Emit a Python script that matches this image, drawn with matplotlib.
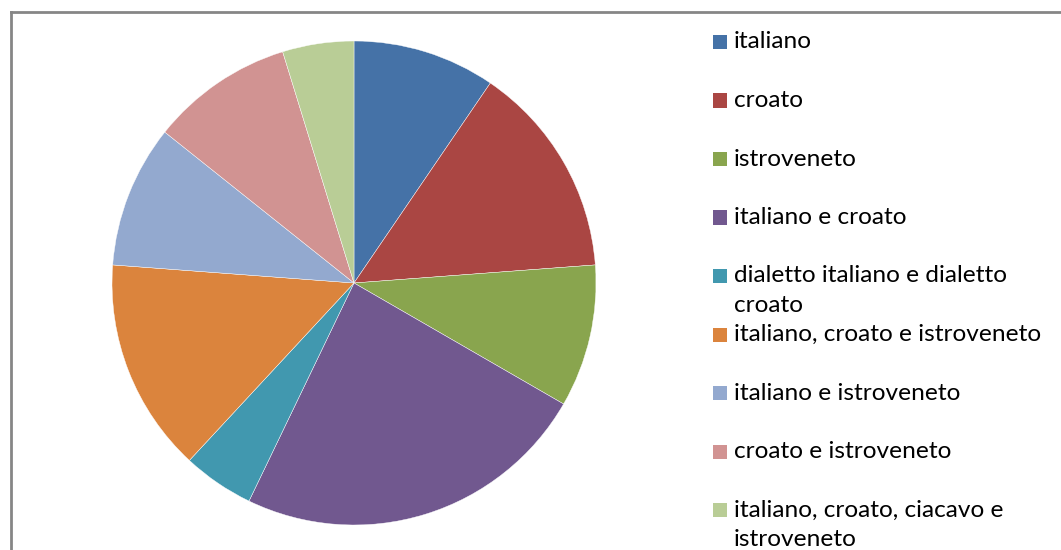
import matplotlib
matplotlib.use("Agg")
import matplotlib.pyplot as plt
from matplotlib.patches import Rectangle
from matplotlib.lines import Line2D

labels = ["italiano", "croato", "istroveneto", "italiano e croato",
          "dialetto italiano e dialetto\ncroato", "italiano, croato e istroveneto",
          "italiano e istroveneto", "croato e istroveneto",
          "italiano, croato, ciacavo e\nistroveneto"]
values = [2, 3, 2, 5, 1, 3, 2, 2, 1]
colors = ["#4572A7", "#AA4643", "#89A54E", "#71588F", "#4198AF",
          "#DB843D", "#93A9CF", "#D19392", "#B9CD96"]

W, H = 1061, 550
fig = plt.figure(figsize=(W / 100, H / 100), dpi=100)
fig.patch.set_facecolor("white")

# outer chart border (extends beyond right/bottom)
fig.add_artist(Line2D([10.5 / W, 10.5 / W], [0, 1 - 11.5 / H], transform=fig.transFigure,
                      color="#868686", lw=2))
fig.add_artist(Line2D([10.5 / W, 1], [1 - 11.5 / H, 1 - 11.5 / H], transform=fig.transFigure,
                      color="#868686", lw=2))

cx, cy, r = 354, 283, 242
ax = fig.add_axes([(cx - r) / W, (H - cy - r) / H, 2 * r / W, 2 * r / H])
ax.pie(values, colors=colors, startangle=90, counterclock=False, radius=1,
       wedgeprops=dict(edgecolor="white", linewidth=0.3))
ax.set_xlim(-1, 1)
ax.set_ylim(-1, 1)
ax.set_aspect("equal")
ax.axis("off")

font = ["Lato", "DejaVu Sans"]
y0 = 42
for i, (lab, col) in enumerate(zip(labels, colors)):
    yc = y0 + 58.5 * i
    fig.add_artist(Rectangle(((713) / W, 1 - (yc + 7) / H), 14 / W, 14 / H,
                             transform=fig.transFigure, facecolor=col, edgecolor="none"))
    lines = lab.split("\n")
    for j, ln in enumerate(lines):
        fig.text(734 / W, 1 - (yc + 29.5 * j) / H, ln, fontsize=17.6, family=font,
                 va="center", ha="left", color="#000000")

fig.savefig("out.png", dpi=100)
